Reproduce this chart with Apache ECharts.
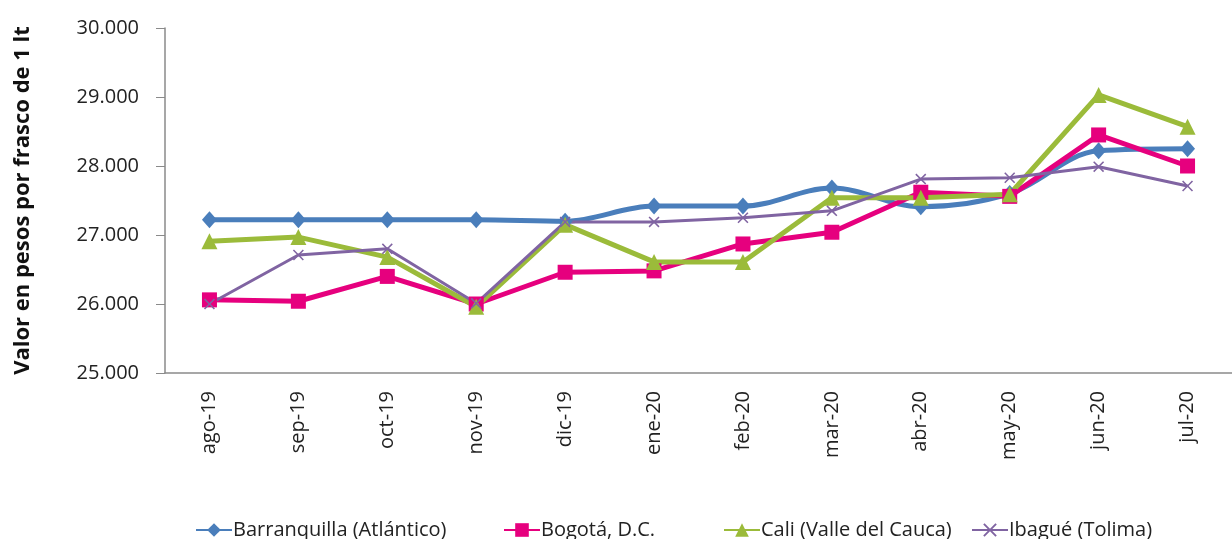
<!DOCTYPE html>
<html>
<head>
<meta charset="utf-8">
<title>Precio frasco 1 lt</title>
<script src="https://cdn.jsdelivr.net/npm/echarts@6/dist/echarts.min.js"></script>
<style>
html,body{margin:0;padding:0;background:#fff;}
#chart{width:1232px;height:539px;}
</style>
</head>
<body>
<div id="chart"></div>
<script>
// datos
var meses = ['ago-19','sep-19','oct-19','nov-19','dic-19','ene-20','feb-20','mar-20','abr-20','may-20','jun-20','jul-20'];
var barranquilla = [27220,27220,27220,27220,27200,27420,27420,27680,27410,27600,28220,28250];
var bogota       = [26060,26040,26400,26000,26460,26480,26870,27040,27620,27560,28450,28000];
var cali         = [26910,26970,26680,25960,27150,26610,26610,27540,27540,27590,29030,28570];
var ibague       = [26000,26710,26800,26010,27190,27190,27250,27350,27810,27830,27990,27710];
var nombres = ['Barranquilla (Atlántico)','Bogotá, D.C.','Cali (Valle del Cauca)','Ibagué (Tolima)'];

var fuente = '"Open Sans", "Noto Sans", sans-serif';
var simboloX = 'path://M0,1 L1,0 L5,4 L9,0 L10,1 L6,5 L10,9 L9,10 L5,6 L1,10 L0,9 L4,5 Z';

function miles(v){
	return String(v).replace(/\B(?=(\d{3})+(?!\d))/g, '.');
}

// una leyenda por serie, como en la hoja original
var posLeyenda = [190, 498, 718, 966];
var leyendas = nombres.map(function(n, i){
	return {
		top:515, left:posLeyenda[i],
		itemWidth:36, itemHeight:17, itemGap:0,
		textStyle:{fontSize:20, color:'#222', fontFamily:fuente, padding:[0,0,0,-4]},
		data:[n]
	};
});

var chart = echarts.init(document.getElementById('chart'));
var option = {
	animation:false,
	textStyle:{fontFamily:fuente},
	grid:{left:165, top:28, width:1077, height:345},
	legend:leyendas,
	xAxis:{
		type:'category',
		data:meses,
		boundaryGap:true,
		axisLine:{lineStyle:{color:'#8a8a8a', width:1.5}},
		axisTick:{show:false},
		axisLabel:{rotate:90, fontSize:20, color:'#222', margin:18}
	},
	yAxis:{
		type:'value',
		min:25000, max:30000, interval:1000,
		name:'Valor en pesos por frasco de 1 lt',
		nameLocation:'middle', nameGap:131,
		nameTextStyle:{fontSize:22, fontWeight:'bold', color:'#111'},
		axisLine:{show:true, lineStyle:{color:'#8a8a8a', width:1.5}},
		axisTick:{show:true, length:9, lineStyle:{color:'#8a8a8a'}},
		splitLine:{show:false},
		axisLabel:{fontSize:20, color:'#222', margin:26, formatter:miles}
	},
	series:[
		{name:nombres[0], type:'line', data:barranquilla, smooth:0.35,
			symbol:'diamond', symbolSize:[15,17],
			lineStyle:{width:5, color:'#4a7ebb'}, itemStyle:{color:'#4a7ebb'}},
		{name:nombres[1], type:'line', data:bogota,
			symbol:'rect', symbolSize:15,
			lineStyle:{width:5, color:'#e6007e'}, itemStyle:{color:'#e6007e'}},
		{name:nombres[2], type:'line', data:cali,
			symbol:'triangle', symbolSize:16,
			lineStyle:{width:5, color:'#9bbb3a'}, itemStyle:{color:'#9bbb3a'}},
		{name:nombres[3], type:'line', data:ibague,
			symbol:simboloX, symbolSize:11,
			lineStyle:{width:3, color:'#8064a2'}, itemStyle:{color:'#8064a2'}}
	]
};
chart.setOption(option);
</script>
</body>
</html>
